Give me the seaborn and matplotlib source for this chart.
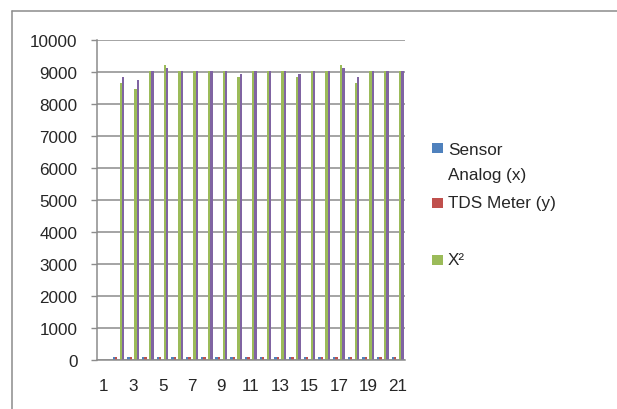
import numpy as np
import pandas as pd
import matplotlib
matplotlib.use("Agg")
import matplotlib.pyplot as plt
import seaborn as sns
from matplotlib.patches import Rectangle
from matplotlib.lines import Line2D

nan = np.nan

# Data (category 1 has no values)
categories = [str(i) for i in range(1, 22)]
sensor_x = [nan, 93, 92, 95, 96, 95, 95, 95, 95, 94, 95, 95, 95, 94, 95, 95, 96, 93, 95, 95, 95]
tds_y = [nan, 95, 95, 95, 95, 95, 95, 95, 95, 95, 95, 95, 95, 95, 95, 95, 95, 95, 95, 95, 95]
blank_series = [nan] * 21
x_squared = [nan, 8649, 8464, 9025, 9216, 9025, 9025, 9025, 9025, 8836, 9025,
             9025, 9025, 8836, 9025, 9025, 9216, 8649, 9025, 9025, 9025]
x_times_y = [nan, 8835, 8740, 9025, 9120, 9025, 9025, 9025, 9025, 8930, 9025,
             9025, 9025, 8930, 9025, 9025, 9120, 8835, 9025, 9025, 9025]

series_names = ["Sensor\nAnalog (x)", "TDS Meter (y)", " ", "X\u00b2", "  "]
series_values = [sensor_x, tds_y, blank_series, x_squared, x_times_y]
colors = ["#4F81BD", "#C0504D", "#F79646", "#9BBB59", "#8064A2"]
legend_rows = [0, 1, 3]


def build_frame():
    rows = []
    for name, vals in zip(series_names, series_values):
        for cat, v in zip(categories, vals):
            rows.append({"cat": cat, "series": name, "value": v})
    return pd.DataFrame(rows)


def plot_chart(df):
    sns.set_style("white")
    plt.rcParams["font.family"] = ["Liberation Sans", "DejaVu Sans"]
    grid_color = "#8C8C8C"

    fig = plt.figure(figsize=(6.17, 4.10), dpi=100)
    ax = fig.add_axes([96.5 / 617, 1 - 361 / 410, (405 - 96.5) / 617, 320 / 410])

    sns.barplot(data=df, x="cat", y="value", hue="series", order=categories,
                hue_order=series_names, palette=colors, saturation=1,
                errorbar=None, linewidth=0, width=0.8, legend=False, ax=ax)

    ax.set_xlim(-0.5, 20.5)
    ax.set_ylim(0, 10000)
    ax.set_yticks(range(0, 10001, 1000))
    ax.yaxis.grid(True, color=grid_color, linewidth=1.1)
    ax.set_axisbelow(True)
    ax.set_xlabel("")
    ax.set_ylabel("")

    ax.set_xticks(range(0, 21, 2))
    ax.set_xticklabels(categories[::2])
    ax.set_xticks(np.arange(-0.5, 21, 1), minor=True)
    ax.tick_params(axis="x", which="major", length=0, pad=13, labelsize=12.3)
    ax.tick_params(axis="x", which="minor", length=5, width=1, color=grid_color, direction="out")
    ax.tick_params(axis="y", length=4.6, width=1, color=grid_color, pad=9,
                   labelsize=12.3, direction="out", left=True)

    for side in ["top", "right"]:
        ax.spines[side].set_visible(False)
    for side in ["left", "bottom"]:
        ax.spines[side].set_color(grid_color)
        ax.spines[side].set_linewidth(1.1)

    # legend drawn by hand to keep Excel-like spacing
    px = lambda x, y: (x / 617, 1 - y / 410)
    centers = [149, 203.5, 260.5]
    for idx, cy in zip(legend_rows, centers):
        x0, y0 = px(432, cy + 5)
        fig.add_artist(Rectangle((x0, y0), 10.5 / 617, 10 / 410, transform=fig.transFigure,
                                 facecolor=colors[idx], edgecolor="none"))
        if "\n" in series_names[idx]:
            tx, ty = px(448, cy - 6)
            fig.text(tx, ty, series_names[idx], fontsize=12.3, va="top", ha="left",
                     linespacing=1.8)
        else:
            tx, ty = px(448, cy)
            fig.text(tx, ty, series_names[idx], fontsize=12.3, va="center", ha="left")

    # outer chart border (top and left only visible)
    fig.add_artist(Line2D([12 / 617, 1], [1 - 12 / 410] * 2, transform=fig.transFigure,
                          color=grid_color, linewidth=1.1))
    fig.add_artist(Line2D([12 / 617] * 2, [0, 1 - 12 / 410], transform=fig.transFigure,
                          color=grid_color, linewidth=1.1))

    fig.savefig("out.png", dpi=100)


def main():
    df = build_frame()
    plot_chart(df)


if __name__ == "__main__":
    main()
